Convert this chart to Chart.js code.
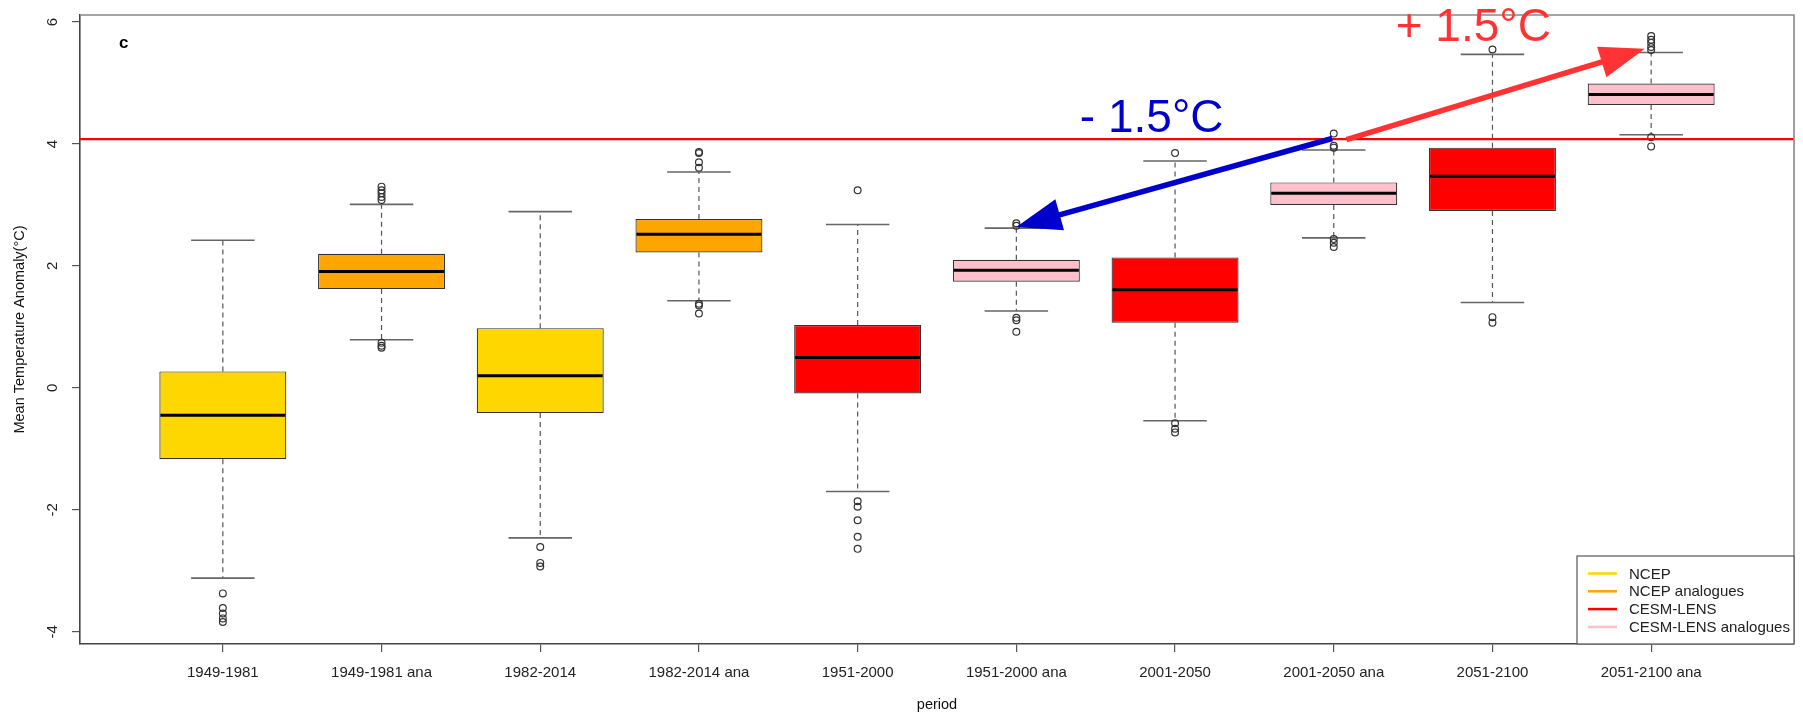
<!DOCTYPE html>
<html>
<head>
<meta charset="utf-8">
<script src="https://cdn.jsdelivr.net/npm/chart.js@4.4.0/dist/chart.umd.min.js"></script>
<style>
  html, body { margin: 0; padding: 0; background: #fff; }
  #wrap { width: 1803px; height: 715px; }
</style>
</head>
<body>
<div id="wrap"><canvas id="boxChart"></canvas></div>
<script>
// categories and box statistics
const periods = ['1949-1981', '1949-1981 ana', '1982-2014', '1982-2014 ana', '1951-2000',
                 '1951-2000 ana', '2001-2050', '2001-2050 ana', '2051-2100', '2051-2100 ana'];
const boxColors = ['#FFD700', '#FFA500', '#FFD700', '#FFA500', '#FF0000',
                   '#FFC0CB', '#FF0000', '#FFC0CB', '#FF0000', '#FFC0CB'];
const lowerWhisker = [-3.12, 0.79, -2.46, 1.43, -1.70, 1.26, -0.54, 2.46, 1.40, 4.15];
const q1           = [-1.17, 1.62, -0.41, 2.22, -0.09, 1.74, 1.07, 3.00, 2.90, 4.64];
const median       = [-0.45, 1.91, 0.20, 2.52, 0.50, 1.93, 1.61, 3.19, 3.47, 4.81];
const q3           = [0.27, 2.20, 0.98, 2.77, 1.03, 2.10, 2.14, 3.37, 3.94, 4.99];
const upperWhisker = [2.42, 3.01, 2.89, 3.54, 2.68, 2.62, 3.72, 3.90, 5.47, 5.50];
const outliers = [
    [-3.37, -3.61, -3.70, -3.78, -3.84],
    [3.30, 3.24, 3.19, 3.13, 3.08, 0.74, 0.69, 0.66],
    [-2.61, -2.87, -2.93],
    [3.87, 3.85, 3.70, 3.61, 1.38, 1.35, 1.22],
    [3.24, -1.86, -1.95, -2.17, -2.44, -2.64],
    [2.70, 2.66, 1.15, 1.11, 0.92],
    [3.85, -0.58, -0.67, -0.73],
    [4.17, 3.97, 3.94, 2.44, 2.38, 2.31],
    [5.55, 1.16, 1.07],
    [5.77, 5.71, 5.66, 5.59, 5.54, 4.11, 3.96]
];
const legendLabels = ['NCEP', 'NCEP analogues', 'CESM-LENS', 'CESM-LENS analogues'];
const legendColors = ['#FFD700', '#FFA500', '#FF0000', '#FFC0CB'];
const yTicks = [-4, -2, 0, 2, 4, 6];
const threshold = 4.08;

// annotations, in data units
const arrows = [
    { from: [7.99, 4.09], to: [6.00, 2.64], color: '#0000CC' },
    { from: [8.08, 4.07], to: [9.96, 5.56], color: '#FF3333' }
];
const notes = [
    { text: '- 1.5°C', x: 6.40, y: 4.19, color: '#0000CC' },
    { text: '+ 1.5°C', x: 8.39, y: 5.69, color: '#FF3333' }
];

const FONT = '"Liberation Sans", Arial, sans-serif';

function drawArrow(ctx, x0, y0, x1, y1, color) {
    const ang = Math.atan2(y1 - y0, x1 - x0);
    const headLen = 45, headHalf = 16;
    const bx = x1 - headLen * Math.cos(ang);
    const by = y1 - headLen * Math.sin(ang);
    ctx.strokeStyle = color;
    ctx.lineWidth = 5.5;
    ctx.beginPath();
    ctx.moveTo(x0, y0);
    ctx.lineTo(bx + 2 * Math.cos(ang), by + 2 * Math.sin(ang));
    ctx.stroke();
    ctx.fillStyle = color;
    ctx.beginPath();
    ctx.moveTo(x1, y1);
    ctx.lineTo(bx + headHalf * Math.sin(ang), by - headHalf * Math.cos(ang));
    ctx.lineTo(bx - headHalf * Math.sin(ang), by + headHalf * Math.cos(ang));
    ctx.closePath();
    ctx.fill();
}

const boxParts = {
    id: 'boxParts',
    beforeDatasetsDraw(chart) {
        const { ctx, scales: { x, y } } = chart;
        ctx.save();
        periods.forEach((p, i) => {
            const cx = x.getPixelForValue(i + 1);
            const half = x.getPixelForValue(i + 1.2) - cx;
            ctx.strokeStyle = '#555';
            ctx.lineWidth = 1.2;
            ctx.setLineDash([5, 4]);
            ctx.beginPath();
            ctx.moveTo(cx, y.getPixelForValue(q3[i]));
            ctx.lineTo(cx, y.getPixelForValue(upperWhisker[i]));
            ctx.moveTo(cx, y.getPixelForValue(q1[i]));
            ctx.lineTo(cx, y.getPixelForValue(lowerWhisker[i]));
            ctx.stroke();
            ctx.setLineDash([]);
            ctx.strokeStyle = '#666';
            ctx.lineWidth = 1.6;
            ctx.beginPath();
            [upperWhisker[i], lowerWhisker[i]].forEach(v => {
                const py = y.getPixelForValue(v);
                ctx.moveTo(cx - half, py);
                ctx.lineTo(cx + half, py);
            });
            ctx.stroke();
        });
        ctx.restore();
    },
    afterDatasetsDraw(chart) {
        const { ctx, chartArea: area, scales: { x, y } } = chart;
        const bars = chart.getDatasetMeta(0).data;
        ctx.save();

        // medians
        ctx.strokeStyle = '#000';
        ctx.lineWidth = 3;
        bars.forEach((bar, i) => {
            const py = y.getPixelForValue(median[i]);
            ctx.beginPath();
            ctx.moveTo(bar.x - bar.width / 2 + 1, py);
            ctx.lineTo(bar.x + bar.width / 2 - 1, py);
            ctx.stroke();
        });

        // threshold line
        const ty = y.getPixelForValue(threshold);
        ctx.strokeStyle = '#FF0000';
        ctx.lineWidth = 2.2;
        ctx.beginPath();
        ctx.moveTo(area.left, ty);
        ctx.lineTo(area.right, ty);
        ctx.stroke();

        // top and right frame
        ctx.strokeStyle = '#888';
        ctx.lineWidth = 1.6;
        ctx.beginPath();
        ctx.moveTo(area.left, area.top);
        ctx.lineTo(area.right, area.top);
        ctx.lineTo(area.right, area.bottom);
        ctx.stroke();

        // panel letter
        ctx.fillStyle = '#000';
        ctx.font = 'bold 17px ' + FONT;
        ctx.textAlign = 'center';
        ctx.textBaseline = 'middle';
        ctx.fillText('c', x.getPixelForValue(0.375), y.getPixelForValue(5.65));

        // arrows and labels
        arrows.forEach(a => drawArrow(ctx,
            x.getPixelForValue(a.from[0]), y.getPixelForValue(a.from[1]),
            x.getPixelForValue(a.to[0]), y.getPixelForValue(a.to[1]), a.color));
        ctx.font = '46px ' + FONT;
        ctx.textAlign = 'left';
        ctx.textBaseline = 'alphabetic';
        notes.forEach(n => {
            ctx.fillStyle = n.color;
            ctx.fillText(n.text, x.getPixelForValue(n.x), y.getPixelForValue(n.y));
        });

        // legend box in the lower right corner
        const lw = 217, lh = 88;
        const lx = area.right - lw, ly = area.bottom - lh;
        ctx.fillStyle = '#fff';
        ctx.fillRect(lx, ly, lw, lh);
        ctx.strokeStyle = '#555';
        ctx.lineWidth = 1.2;
        ctx.strokeRect(lx, ly, lw, lh);
        ctx.font = '15px ' + FONT;
        ctx.textBaseline = 'middle';
        legendLabels.forEach((lab, i) => {
            const ry = ly + 17.5 + i * 17.8;
            ctx.strokeStyle = legendColors[i];
            ctx.lineWidth = 2.5;
            ctx.beginPath();
            ctx.moveTo(lx + 11, ry);
            ctx.lineTo(lx + 40, ry);
            ctx.stroke();
            ctx.fillStyle = '#222';
            ctx.fillText(lab, lx + 52, ry + 1);
        });

        // rotated y tick labels, R style
        ctx.fillStyle = '#222';
        ctx.textAlign = 'center';
        y.ticks.forEach(t => {
            ctx.save();
            ctx.translate(52, y.getPixelForValue(t.value));
            ctx.rotate(-Math.PI / 2);
            ctx.fillText(String(t.value), 0, 1);
            ctx.restore();
        });

        // axis titles
        ctx.fillStyle = '#111';
        ctx.font = '14.5px ' + FONT;
        ctx.textAlign = 'center';
        ctx.fillText('period', (area.left + area.right) / 2, 705);
        ctx.translate(20, (area.top + area.bottom) / 2);
        ctx.rotate(-Math.PI / 2);
        ctx.fillText('Mean Temperature Anomaly(°C)', 0, 0);
        ctx.restore();
    }
};

const outlierPoints = [];
outliers.forEach((list, i) => list.forEach(v => outlierPoints.push({ x: i + 1, y: v })));

new Chart(document.getElementById('boxChart'), {
    type: 'bar',
    data: {
        datasets: [{
            type: 'bar',
            data: periods.map((p, i) => ({ x: i + 1, y: [q1[i], q3[i]] })),
            backgroundColor: boxColors,
            borderColor: '#333',
            borderWidth: 1.2,
            borderSkipped: false,
            categoryPercentage: 0.8,
            barPercentage: 1.0
        }, {
            type: 'scatter',
            data: outlierPoints,
            pointStyle: 'circle',
            pointRadius: 3.4,
            borderColor: '#333',
            borderWidth: 1.2,
            backgroundColor: 'rgba(0,0,0,0)'
        }]
    },
    options: {
        responsive: true,
        maintainAspectRatio: false,
        animation: false,
        events: [],
        layout: { padding: { top: 15, right: 9, left: 0, bottom: 0 } },
        plugins: { legend: { display: false }, tooltip: { enabled: false } },
        scales: {
            x: {
                type: 'linear',
                offset: false,
                min: 0.1,
                max: 10.9,
                afterBuildTicks: s => { s.ticks = periods.map((p, i) => ({ value: i + 1 })); },
                afterFit: s => { s.height = 71; },
                ticks: {
                    autoSkip: false,
                    maxRotation: 0,
                    padding: 12,
                    color: '#222',
                    font: { family: FONT, size: 15 },
                    callback: (v, i) => periods[i]
                },
                grid: { offset: false, drawOnChartArea: false, tickLength: 8, color: '#555', lineWidth: 1.2 },
                border: { color: '#444', width: 1.6 }
            },
            y: {
                type: 'linear',
                min: -4.20,
                max: 6.115,
                afterBuildTicks: s => { s.ticks = yTicks.map(v => ({ value: v })); },
                afterFit: s => { s.width = 80; },
                ticks: { display: false },
                grid: { drawOnChartArea: false, tickLength: 8, color: '#555', lineWidth: 1.2 },
                border: { color: '#444', width: 1.6 }
            }
        }
    },
    plugins: [boxParts]
});
</script>
</body>
</html>
